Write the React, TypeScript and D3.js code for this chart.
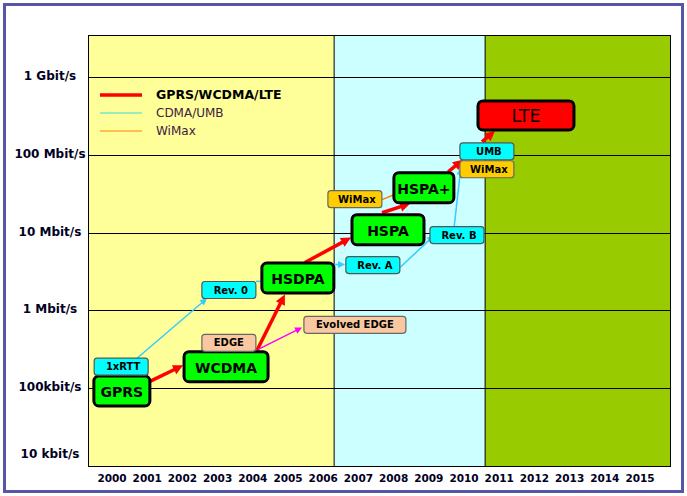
import React from "react";
import * as d3 from "d3";

// ---- data ----
const yearLabels = ["2000","2001","2002","2003","2004","2005","2006","2007","2008","2009","2010","2011","2012","2013","2014","2015"];
const yearValues = [2000,2001,2002,2003,2004,2005,2006,2007,2008,2009,2010,2011,2012,2013,2014,2015];
const rateTicks = [1e4, 1e5, 1e6, 1e7, 1e8, 1e9];
const rateLabels = ["10 kbit/s", "100kbit/s", "1 Mbit/s", "10 Mbit/s", "100 Mbit/s", "1 Gbit/s"];

const eraStart = [1999.318, 2006.31, 2010.6];
const eraEnd = [2006.31, 2010.6, 2015.88];

const techNames = ["GPRS","1xRTT","WCDMA","EDGE","Rev. 0","HSDPA","Evolved EDGE","Rev. A","HSPA","WiMax","HSPA+","Rev. B","UMB","WiMax ","LTE"];
const techYears = [2000.28,2000.26,2003.24,2003.32,2003.32,2005.28,2006.90,2007.41,2007.84,2006.90,2008.86,2009.80,2010.65,2010.65,2011.76];
const techRates = [92000,189000,189000,383000,1830000,2610000,652000,3830000,10900000,26900000,37800000,9290000,111000000,65200000,321000000];
const techKinds = ["main","cdma","main","edge","cdma","main","edge","cdma","main","wimax","main","cdma","cdma","wimax","lte"];

const linkKinds = ["red","red","red","red","red","red","cyan","cyan","cyan","cyan","cyan","orange","magenta"];
const linkFromYear = [2001.02,2004.12,2005.48,2007.67,2009.55,2010.51,2000.71,2004.09,2006.31,2008.18,2009.72,2007.67,2004.15];
const linkFromRate = [119000,307000,4120000,18000000,60500000,147000000,243000,2360000,3890000,3560000,11900000,26500000,316000];
const linkToYear = [2002.02,2004.91,2006.79,2008.47,2009.97,2010.88,2002.70,2004.26,2006.62,2009.15,2009.91,2008.01,2005.40];
const linkToRate = [197000,1600000,8630000,23600000,86300000,203000000,1430000,2360000,3890000,9160000,68100000,30700000,605000];

const legendLabels = ["GPRS/WCDMA/LTE", "CDMA/UMB", "WiMax"];
const legendKinds = ["red", "cyan", "orange"];

// ---- styles ----
const eraColors = ["#ffff99", "#ccffff", "#99cc00"];
const boxWidth: Record<string, number> = {
  "GPRS": 56, "1xRTT": 54, "WCDMA": 84, "EDGE": 54, "Rev. 0": 54, "HSDPA": 72,
  "Evolved EDGE": 102, "Rev. A": 54, "HSPA": 72, "WiMax": 54, "HSPA+": 60,
  "Rev. B": 54, "UMB": 54, "WiMax ": 54, "LTE": 96,
};
const kindStyle: Record<string, any> = {
  main: { fill: "#00ff00", stroke: "#000", sw: 3, h: 30, r: 5, fs: 14, fw: "bold" },
  lte: { fill: "#ff0000", stroke: "#000", sw: 3, h: 29, r: 5, fs: 17.5, fw: "normal" },
  cdma: { fill: "#00ffff", stroke: "#555", sw: 1.2, h: 17, r: 3, fs: 10, fw: "bold" },
  edge: { fill: "#fac8a0", stroke: "#666", sw: 1.2, h: 17, r: 3, fs: 10, fw: "bold" },
  wimax: { fill: "#ffcc00", stroke: "#666", sw: 1.2, h: 17, r: 3, fs: 10, fw: "bold" },
};
const linkStyle: Record<string, any> = {
  red: { color: "#ff0000", w: 3.5, head: 10, hw: 5, arrow: true },
  cyan: { color: "#33ccff", w: 1.5, head: 7, hw: 3.5, arrow: true },
  orange: { color: "#ff8000", w: 1.5, head: 0, hw: 0, arrow: false },
  magenta: { color: "#ff00ff", w: 1.5, head: 7, hw: 3.5, arrow: true },
};
const legendColors = ["#ff0000", "#33dddd", "#ff8000"];

const W = 687, H = 496;
const plot = { l: 88, r: 671, t: 35, b: 466 };
const font = "'DejaVu Sans', Verdana, sans-serif";

export default function App() {
  const x = d3.scaleLinear().domain([1999.318, 2015.88]).range([plot.l, plot.r]);
  const y = d3.scaleLog().domain([1e4, Math.pow(10, 9.54)]).range([plot.b, plot.t]);

  const links = linkKinds.map((k, i) => {
    const st = linkStyle[k];
    const x1 = x(linkFromYear[i]), y1 = y(linkFromRate[i]);
    const x2 = x(linkToYear[i]), y2 = y(linkToRate[i]);
    const hasArrow = st.arrow && !(k === "cyan" && i === 7);
    const dx = x2 - x1, dy = y2 - y1;
    const len = Math.hypot(dx, dy) || 1;
    const ux = dx / len, uy = dy / len;
    const head = hasArrow ? st.head : 0;
    const bx = x2 - ux * head, by = y2 - uy * head;
    const pts = hasArrow
      ? `${x2},${y2} ${bx - uy * st.hw},${by + ux * st.hw} ${bx + uy * st.hw},${by - ux * st.hw}`
      : null;
    return (
      <g key={"l" + i}>
        <line x1={x1} y1={y1} x2={hasArrow ? bx + ux * 1 : x2} y2={hasArrow ? by + uy * 1 : y2}
          stroke={st.color} strokeWidth={st.w} />
        {pts && <polygon points={pts} fill={st.color} />}
      </g>
    );
  });

  return (
    <svg width={W} height={H} style={{ position: "absolute", left: 0, top: 0, background: "#fff" }}
      fontFamily={font}>
      <rect x={4.5} y={4.5} width={678} height={487} fill="#fff" stroke="#5555aa" strokeWidth={3} />
      {eraStart.map((s, i) => (
        <rect key={"e" + i} x={x(s)} y={plot.t} width={x(eraEnd[i]) - x(s)} height={plot.b - plot.t}
          fill={eraColors[i]} />
      ))}
      {eraStart.slice(1).map((s, i) => (
        <line key={"v" + i} x1={x(s)} x2={x(s)} y1={plot.t} y2={plot.b} stroke="#000" strokeWidth={1} />
      ))}
      {rateTicks.map((t, i) => (
        <g key={"g" + i}>
          <line x1={plot.l} x2={plot.r} y1={Math.round(y(t)) + 0.5} y2={Math.round(y(t)) + 0.5}
            stroke="#000" strokeWidth={1} />
          <text x={50} y={Math.min(y(t), plot.b - 11) + 3} textAnchor="middle" fontSize={12} fontWeight="bold" fill="#000022">
            {rateLabels[i]}
          </text>
        </g>
      ))}
      <rect x={plot.l + 0.5} y={plot.t + 0.5} width={plot.r - plot.l - 1} height={plot.b - plot.t}
        fill="none" stroke="#000" strokeWidth={1} />
      {yearValues.map((v, i) => (
        <text key={"yl" + i} x={x(v)} y={482} textAnchor="middle" fontSize={10.5} fontWeight="bold" fill="#000022">
          {yearLabels[i]}
        </text>
      ))}
      {/* legend */}
      {legendLabels.map((lab, i) => {
        const ly = 95 + i * 18;
        return (
          <g key={"lg" + i}>
            <line x1={100} x2={142} y1={ly} y2={ly} stroke={legendColors[i]} strokeWidth={i === 0 ? 3.5 : 1} />
            <text x={156} y={ly + 4} fontSize={i === 0 ? 12.5 : 12} fontWeight={i === 0 ? "bold" : "normal"}
              fill={i === 0 ? "#000" : "#402040"}>{lab}</text>
          </g>
        );
      })}
      {links}
      {techNames.map((n, i) => {
        const st = kindStyle[techKinds[i]];
        const w = boxWidth[n];
        const cx = x(techYears[i]), cy = y(techRates[i]);
        return (
          <g key={"b" + i}>
            <rect x={cx - w / 2} y={cy - st.h / 2} width={w} height={st.h} rx={st.r} ry={st.r}
              fill={st.fill} stroke={st.stroke} strokeWidth={st.sw} />
            <text x={cx + (techKinds[i] === "cdma" || techKinds[i] === "wimax" ? 2 : 0)} y={cy + st.fs * 0.36 + (techKinds[i] === "main" ? 1 : 0)}
              textAnchor="middle" fontSize={st.fs} fontWeight={st.fw} fill="#000">
              {n.trim()}
            </text>
          </g>
        );
      })}
    </svg>
  );
}
